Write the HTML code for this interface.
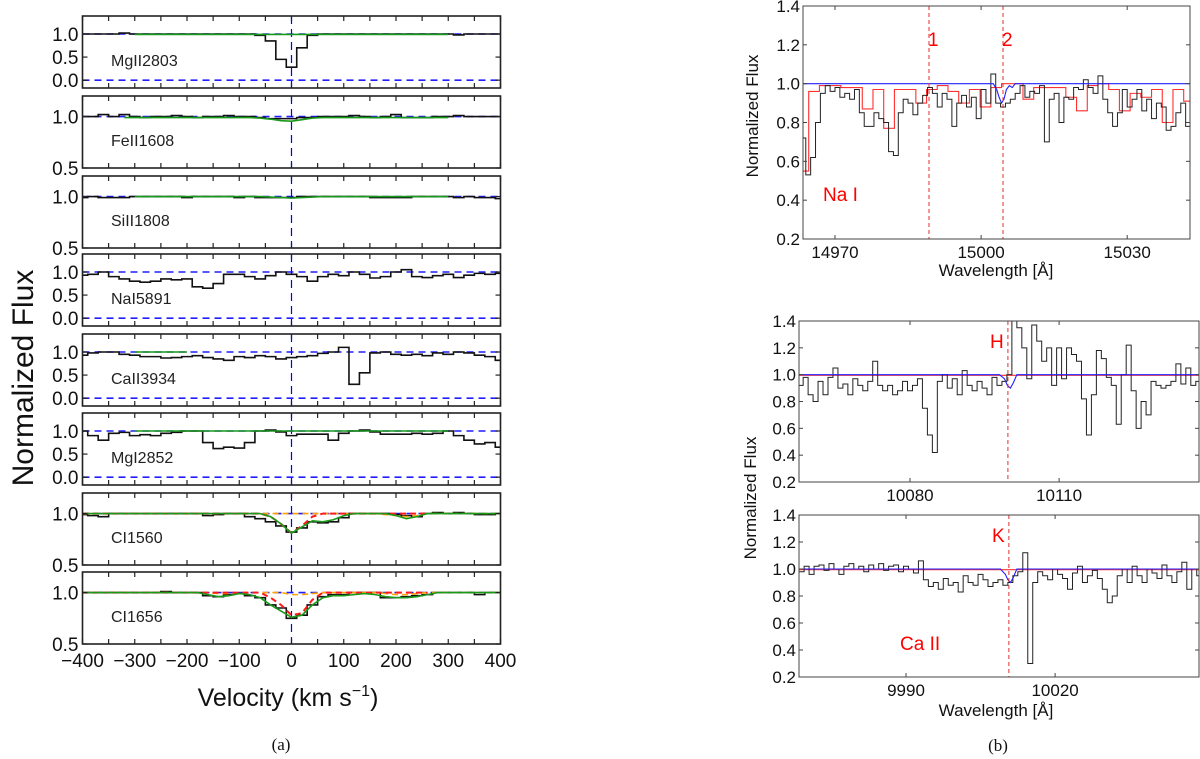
<!DOCTYPE html>
<html><head><meta charset="utf-8"><style>
html,body{margin:0;padding:0;background:#fff;}
svg{display:block;font-family:"Liberation Sans","DejaVu Sans",sans-serif;}
</style></head><body>
<svg id="fig" width="1200" height="759" viewBox="0 0 1200 759" xmlns="http://www.w3.org/2000/svg"></svg>
<script>
// ---------- Left panel data (velocity grid -400..400 step 20) ----------
const velStart = -400, velStep = 20;
const mg2803 = [1,1,1,1,1.02,1,1,1,1,1,1,1,1,1,1,1,1,0.97,0.85,0.45,0.28,0.7,0.97,1,1,1,1,1,1,1,1,1,1,1,1,1,0.98,1,1,1,1];
const fe1608 = [1.0,1.0,1.02,1.0,1.02,1.0,0.99,1.0,1.0,1.01,1.0,0.99,1.0,1.0,1.01,1.0,1.0,0.99,0.98,0.98,0.98,0.99,0.99,1.0,1.0,1.0,1.01,1.0,0.99,1.0,1.02,0.99,0.99,0.99,1.0,1.0,1.01,1.0,1.0,1.0,1.0];
const si1808 = [0.99,1.0,0.99,0.99,0.99,1.0,1.0,1.0,1.0,1.0,0.99,1.0,1.0,1.0,1.0,0.99,1.0,0.99,0.99,0.99,0.99,1.0,1.0,1.0,1.0,1.0,1.0,1.0,0.99,0.99,0.99,0.99,1.0,1.0,1.0,1.0,0.99,1.0,0.99,0.99,0.98];
const na5891 = [0.93,0.95,1.0,0.9,0.85,0.8,0.78,0.8,0.85,0.83,0.85,0.68,0.65,0.75,0.95,0.95,0.9,0.85,0.92,1.0,0.95,0.9,0.8,0.9,0.95,0.92,1.0,0.95,0.87,0.9,1.0,1.05,0.9,0.88,0.92,0.95,0.88,0.93,0.97,0.95,0.97];
const ca3934 = [0.93,0.98,1.0,1.0,0.95,0.93,0.9,0.9,0.87,0.88,0.9,0.92,0.88,0.85,0.82,0.9,0.88,0.92,0.9,0.85,0.88,0.9,0.92,0.97,1.0,1.1,0.3,0.55,0.98,1.0,0.95,0.93,0.95,0.92,0.98,0.95,1.0,0.98,0.93,0.9,0.82];
const mg2852 = [1.0,0.9,0.8,0.95,0.97,0.9,0.92,0.9,0.95,0.97,1.0,1.0,0.75,0.62,0.65,0.63,0.75,1.0,1.02,0.98,0.9,0.93,0.93,0.93,0.8,0.95,1.0,1.02,0.98,0.93,0.93,0.93,0.95,0.93,0.95,1.0,0.9,0.8,0.72,0.75,0.65];
const c1560 = [0.99,0.98,0.97,1.0,1.0,1.0,1.0,1.0,1.0,1.0,1.0,1.0,0.98,0.99,1.0,1.0,0.97,0.95,0.92,0.88,0.82,0.86,0.92,0.91,0.92,0.96,1.0,1.0,1.0,1.0,0.99,0.98,0.97,1.0,1.01,1.0,1.01,1.0,0.99,0.99,1.0];
const c1656 = [1.0,1.0,1.0,1.0,1.0,1.0,1.0,1.0,1.01,1.0,1.0,1.0,0.97,0.96,0.98,0.99,0.97,0.95,0.88,0.85,0.75,0.78,0.88,0.96,0.98,0.98,1.0,1.0,1.0,0.95,0.95,0.96,0.97,0.98,1.0,1.0,1.0,1.0,0.98,1.0,1.0];
const N=null;
const mg2803Fit = [N,N,N,N,N,0.99,0.99,0.99,0.99,0.99,0.99,0.99,0.99,0.99,0.99,0.99,0.99,0.99,0.99,0.99,0.99,0.99,0.99,0.99,0.99,0.99,0.99,0.99,0.99,0.99,0.99,0.99,0.99,0.99,0.99,0.99,N,N,N,N,N];
const fe1608Fit = [N,N,N,N,0.99,0.99,0.99,0.99,0.99,0.99,0.99,0.99,0.99,0.99,0.99,0.99,0.99,0.985,0.975,0.96,0.955,0.97,0.985,0.99,0.99,0.99,0.99,0.99,0.99,0.99,0.99,0.99,0.99,0.99,0.99,0.99,N,N,N,N,N];
const si1808Fit = [N,N,N,N,N,1,1,1,1,1,1,1,1,1,1,1,1,1,0.995,0.99,0.985,0.99,0.995,1,1,1,1,1,1,1,1,1,1,1,1,1,N,N,N,N,N];
const ca3934Fit = [N,N,N,N,N,1,1,1,1,1,1,N,N,N,N,N,N,N,N,N,N,N,N,N,N,N,N,N,N,N,N,N,N,N,N,N,N,N,N,N,N];
const mg2852Fit = [N,N,N,N,N,1,1,1,1,1,1,1,1,1,1,1,1,1,1,1,1,1,1,1,1,1,1,1,1,1,1,1,1,1,1,1,N,N,N,N,N];
const c1560Fit = [1,1,1,1,1,1,1,1,1,1,1,1,1,1,1,1,1,1,0.97,0.9,0.81,0.87,0.93,0.92,0.94,0.98,1,1,1,1,0.98,0.95,0.97,1,1,1,1,1,1,1,1];
const c1560Red = [1,1,1,1,1,1,1,1,1,1,1,1,1,1,1,1,1,1,0.97,0.9,0.81,0.88,0.97,1,1,1,1,1,1,1,1,1,1,1,N,N,N,N,N,N,N];
const c1560Org = [1,1,1,1,1,1,1,1,1,1,1,1,1,1,1,1,1,1,1,1,1,1,1,1,1,1,1,1,1,0.99,0.98,0.97,0.98,1,1,1,1,1,1,1,1];
const c1656Fit = [1,1,1,1,1,1,1,1,1,1,1,1,0.98,0.96,0.97,0.99,0.98,0.95,0.88,0.82,0.76,0.78,0.88,0.95,0.97,0.97,0.98,0.99,0.98,0.96,0.95,0.95,0.96,0.98,1,1,1,1,1,1,1];
const c1656Red = [1,1,1,1,1,1,1,1,1,1,1,1,1,1,1,1,1,1,0.95,0.88,0.78,0.8,0.93,1,1,1,1,1,1,1,1,1,1,1,N,N,N,N,N,N,N];
const c1656Org = [1,1,1,1,1,1,1,1,1,1,1,1,1,0.99,0.99,1,1,1,1,1,0.98,0.98,0.99,1,1,1,1,1,1,0.99,0.98,0.98,0.99,1,1,1,1,1,1,1,1];
const panelLabels = ["MgII2803","FeII1608","SiII1808","NaI5891","CaII3934","MgI2852","CI1560","CI1656"];
const velTicks = [-400,-300,-200,-100,0,100,200,300,400];
const velTickLabels = ["\u2212400","\u2212300","\u2212200","\u2212100","0","100","200","300","400"];

// ---------- Right panel data ----------
const naStart = 14963.5, naStep = 1;
const naFlux = [0.72,0.53,0.62,0.8,0.95,0.99,0.96,0.98,0.93,0.95,0.92,0.97,0.85,0.78,0.78,0.85,0.82,0.80,0.65,0.63,0.85,0.92,0.90,0.84,0.90,0.94,0.98,0.95,0.88,0.95,0.92,0.78,0.9,0.94,0.88,0.93,0.82,0.97,0.9,1.05,0.9,0.88,0.9,0.92,0.95,0.99,0.93,0.96,0.95,0.99,0.7,0.92,0.95,0.8,0.93,0.92,0.98,0.97,1.02,0.98,0.95,1.04,0.92,0.85,0.78,0.85,0.97,0.88,0.92,0.97,0.86,0.92,0.82,0.9,0.88,0.76,0.78,0.85,0.9,0.78];
const naRedStart = 14963.5, naRedStep = 2.2;
const naRed = [0.55,0.96,0.99,0.99,0.98,0.98,0.87,0.97,0.77,0.97,0.97,0.9,0.97,0.99,0.96,0.9,0.97,0.88,0.98,1.0,1.0,0.92,0.98,0.98,0.98,0.93,0.86,0.99,1.0,0.97,0.86,0.95,0.93,0.97,0.8,0.97,0.91];
const naModelLam = [14963,15002.5,15003.2,15003.7,15004.2,15004.7,15005.2,15005.8,15006.4,15007,15043];
const naModel = [1,1,0.97,0.93,0.9,0.92,0.97,0.99,0.98,1,1];
const naMarkers = [14989.3,15004.5];
const naMarkerLabels = ["1","2"];
const naTicks = [14970,15000,15030];

const hStart = 10058, hStep = 1;
const hFlux = [0.92,0.98,0.85,0.80,0.95,0.85,0.98,1.05,0.9,0.93,0.85,0.97,0.92,0.88,0.95,1.1,0.92,0.88,0.92,0.85,0.88,0.95,0.88,0.92,0.97,0.75,0.55,0.42,0.95,1.0,0.9,0.97,0.85,1.03,0.92,0.88,0.95,0.9,0.85,0.98,0.92,0.95,1.0,1.4,1.35,1.2,0.97,1.37,1.25,1.1,1.2,0.92,1.2,0.97,1.2,1.15,1.1,0.82,0.55,0.85,1.18,1.12,0.98,0.92,0.63,1.0,1.22,0.88,0.6,0.8,0.7,0.95,0.92,0.9,0.92,0.95,1.08,0.93,1.05,0.92,0.95];
const hModelLam = [10057,10098,10099,10099.6,10100.2,10100.8,10101.5,10139];
const hModel = [1,1,0.97,0.92,0.9,0.94,1,1];
const hMarker = 10099.7;
const hTicks = [10080,10110];

const kStart = 9969, kStep = 1;
const kFlux = [0.98,1.02,0.96,1.02,1.03,0.99,1.04,1.0,0.96,1.02,1.04,1.0,1.02,0.98,1.03,1.0,1.04,0.99,1.02,1.03,0.98,1.02,1.0,0.97,1.06,0.92,0.87,0.9,0.85,0.93,0.88,0.9,0.83,0.95,0.9,0.88,0.96,0.92,0.87,0.9,0.92,0.88,0.9,0.95,0.98,1.12,0.3,0.9,0.98,0.95,0.92,1.0,0.96,0.93,0.85,0.97,1.02,0.9,0.95,0.99,0.93,0.85,0.75,0.8,0.95,1.0,0.9,1.02,0.95,0.9,1.0,0.97,0.93,1.03,0.95,0.9,0.98,1.05,0.85,1.0,0.95];
const kModelLam = [9968,10009,10010,10010.5,10011,10011.5,10012.3,10050];
const kModel = [1,1,0.96,0.92,0.9,0.93,1,1];
const kMarker = 10010.7;
const kTicks = [9990,10020];
const fluxTicks = [0.2,0.4,0.6,0.8,1.0,1.2,1.4];

const svg = document.getElementById('fig');
const NS = "http://www.w3.org/2000/svg";
function mk(tag, attrs, parent){
  const e = document.createElementNS(NS, tag);
  for (const k in attrs) e.setAttribute(k, attrs[k]);
  (parent||svg).appendChild(e);
  return e;
}
function stepPath(xs, ys, X, Y){
  let d = "";
  for (let i=0;i<xs.length;i++){
    if (ys[i]===null) continue;
    const half = (i<xs.length-1 ? xs[i+1]-xs[i] : xs[i]-xs[i-1])/2;
    const x0 = X(xs[i]-half), x1 = X(xs[i]+half), y = Y(ys[i]);
    d += (d==="" ? "M"+x0+","+y : " L"+x0+","+y) + " L"+x1+","+y;
  }
  return d;
}
function linePath(xs, ys, X, Y){
  let d="", pen=false;
  for (let i=0;i<xs.length;i++){
    if (ys[i]===null){pen=false;continue;}
    d += (pen?" L":" M")+X(xs[i])+","+Y(ys[i]); pen=true;
  }
  return d;
}

// ---------- LEFT PANELS ----------
const vX = v => 291.5 + v*0.5225;
const tops = [16,96,176,254,334,413,493,572];
const pH = 72;
const typeA = [true,false,false,true,true,true,false,false];
const dataSets = [mg2803,fe1608,si1808,na5891,ca3934,mg2852,c1560,c1656];
const fitSets = [mg2803Fit,fe1608Fit,si1808Fit,null,ca3934Fit,mg2852Fit,c1560Fit,c1656Fit];
const redSets = [null,null,null,null,null,null,c1560Red,c1656Red];
const orgSets = [null,null,null,null,null,null,c1560Org,c1656Org];
const vel = mg2803.map((_,i)=>velStart+i*velStep);
const xL = vX(-400), xR = vX(400);

for (let p=0;p<8;p++){
  const top = tops[p], bot = top+pH;
  const lo = typeA[p] ? -0.17 : 0.5, hi = typeA[p] ? 1.39 : 1.2;
  const Y = f => bot - (f-lo)/(hi-lo)*pH;
  const g = mk('g',{});
  
  
  const clipId = 'c'+p;
  const cp = mk('clipPath',{id:clipId},g);
  mk('rect',{x:xL,y:top,width:xR-xL,height:pH},cp);
  const inner = mk('g',{'clip-path':'url(#'+clipId+')'},g);
  mk('line',{x1:xL,x2:xR,y1:Y(1),y2:Y(1),stroke:'#1f1fff','stroke-width':1.6,'stroke-dasharray':'7,5'},inner);
  if (typeA[p]) mk('line',{x1:xL,x2:xR,y1:Y(0),y2:Y(0),stroke:'#1f1fff','stroke-width':1.6,'stroke-dasharray':'7,5'},inner);
  mk('line',{x1:vX(0),x2:vX(0),y1:top,y2:bot,stroke:'#0000ff','stroke-width':1.2,'stroke-dasharray':'8,5'},inner);
  const dp = mk('path',{d:stepPath(vel,dataSets[p],vX,Y),fill:'none',stroke:'#111','stroke-width':1.6},inner);
  
  
  if (orgSets[p]) mk('path',{d:linePath(vel,orgSets[p],vX,Y),fill:'none',stroke:'#ffa500','stroke-width':1.6,'stroke-dasharray':'6,4'},inner);
  if (redSets[p]) mk('path',{d:linePath(vel,redSets[p],vX,Y),fill:'none',stroke:'#ff1a1a','stroke-width':2,'stroke-dasharray':'6,4'},inner);
  if (fitSets[p]){
    const fp = mk('path',{d:linePath(vel,fitSets[p],vX,Y),fill:'none',stroke:'#1a9a1a','stroke-width':1.6},inner);
    
    
  }
  mk('rect',{x:xL,y:top,width:xR-xL,height:pH,fill:'none',stroke:'#222','stroke-width':1.6},g);
  for (let v=-400; v<=400; v+=50){
    mk('line',{x1:vX(v),x2:vX(v),y1:bot,y2:bot-5,stroke:'#222','stroke-width':1.2},g);
    mk('line',{x1:vX(v),x2:vX(v),y1:top,y2:top+5,stroke:'#222','stroke-width':1.2},g);
  }
  const yt = typeA[p] ? [0,0.5,1.0] : [0.5,1.0];
  yt.forEach(t=>{
    mk('line',{x1:xL,x2:xL+5,y1:Y(t),y2:Y(t),stroke:'#222','stroke-width':1.2},g);
    mk('line',{x1:xR,x2:xR-5,y1:Y(t),y2:Y(t),stroke:'#222','stroke-width':1.2},g);
    const tl = mk('text',{x:xL-4,y:Y(t)+7,'text-anchor':'end','font-size':19,fill:'#111'},g);
    tl.textContent = t.toFixed(1);
    
    
  });
  const lb = mk('text',{x:111,y:top+50,'font-size':16,fill:'#222'},g);
  lb.textContent = panelLabels[p];
  
  
}
velTicks.forEach((v,i)=>{
  const t = mk('text',{x:vX(v),y:667,'text-anchor':'middle','font-size':19,fill:'#111'});
  t.textContent = velTickLabels[i];
  
  
});
{
  const t = mk('text',{x:288,y:706,'text-anchor':'middle','font-size':25,fill:'#111'});
  
  
  t.innerHTML = 'Velocity (km s<tspan dy="-10" font-size="16">\u22121</tspan><tspan dy="10">)</tspan>';
  const yl = mk('text',{x:0,y:0,'text-anchor':'middle','font-size':30,fill:'#111',transform:'translate(33,378) rotate(-90)'});
  yl.textContent = 'Normalized Flux';
  
  
  const ca = mk('text',{x:281,y:750,'text-anchor':'middle','font-size':17,fill:'#111','font-family':'Liberation Serif, serif'});
  ca.textContent = '(a)';
  
  
}

// ---------- RIGHT PANELS ----------
function specPanel(o){
  const X = l => o.x0 + (l-o.l0)*o.ppa;
  const Y = f => o.bot - (f-0.2)/1.2*(o.bot-o.top);
  const g = mk('g',{});
  
  
  const cp = mk('clipPath',{id:o.name+'-clip'},g);
  mk('rect',{x:o.left,y:o.top,width:o.right-o.left,height:o.bot-o.top},cp);
  const inner = mk('g',{'clip-path':'url(#'+o.name+'-clip)'},g);
  const lam = o.flux.map((_,i)=>o.start+i*o.step);
  if (o.red){
    const rl = o.red.map((_,i)=>o.redStart+i*o.redStep);
    const rp = mk('path',{d:stepPath(rl,o.red,X,Y),fill:'none',stroke:'#ff3030','stroke-width':1.1},inner);
    
    
  } else {
    mk('line',{x1:o.left,x2:o.right,y1:Y(0.995),y2:Y(0.995),stroke:'#ff3030','stroke-width':1.1},inner);
  }
  const bp = mk('path',{d:stepPath(lam,o.flux,X,Y),fill:'none',stroke:'#222','stroke-width':1},inner);
  
  
  const mp = mk('path',{d:linePath(o.mLam,o.model,X,Y),fill:'none',stroke:'#2020ff','stroke-width':1.1},inner);
  
  
  o.markers.forEach(m=>mk('line',{x1:X(m),x2:X(m),y1:o.top,y2:o.bot,stroke:'#e03030','stroke-width':1,'stroke-dasharray':'4,3'},inner));
  mk('rect',{x:o.left,y:o.top,width:o.right-o.left,height:o.bot-o.top,fill:'none',stroke:'#444','stroke-width':1},g);
  fluxTicks.forEach(t=>{
    mk('line',{x1:o.left,x2:o.left+4,y1:Y(t),y2:Y(t),stroke:'#444'},g);
    mk('line',{x1:o.right,x2:o.right-4,y1:Y(t),y2:Y(t),stroke:'#444'},g);
    const tl = mk('text',{x:o.left-3,y:Y(t)+6,'text-anchor':'end','font-size':17,fill:'#111'},g);
    tl.textContent = t.toFixed(1);
    
    
  });
  o.ticks.forEach(t=>{
    mk('line',{x1:X(t),x2:X(t),y1:o.bot,y2:o.bot-4,stroke:'#444'},g);
    mk('line',{x1:X(t),x2:X(t),y1:o.top,y2:o.top+4,stroke:'#444'},g);
    const tl = mk('text',{x:X(t),y:o.bot+19,'text-anchor':'middle','font-size':17,fill:'#111'},g);
    tl.textContent = String(t);
    
    
  });
  o.labels.forEach(L=>{
    const t = mk('text',{x:L.x,y:L.y,'font-size':L.s,fill:'#ff0000','text-anchor':L.a||'start'},g);
    t.textContent = L.t;
    
    
  });
}
specPanel({name:'na-panel',left:803,right:1190,top:6,bot:239,x0:835,l0:14970,ppa:4.87,
  flux:naFlux,start:naStart,step:naStep,red:naRed,redStart:naRedStart,redStep:naRedStep,
  mLam:naModelLam,model:naModel,markers:naMarkers,ticks:naTicks,
  labels:[{x:928,y:46,s:19,t:naMarkerLabels[0]},{x:1002,y:46,s:19,t:naMarkerLabels[1]},{x:823,y:201,s:19,t:'Na I'}]});
specPanel({name:'h-panel',left:799,right:1199,top:321,bot:482,x0:910,l0:10080,ppa:4.97,
  flux:hFlux,start:hStart,step:hStep,red:null,
  mLam:hModelLam,model:hModel,markers:[hMarker],ticks:hTicks,
  labels:[{x:990,y:348,s:19,t:'H'}]});
specPanel({name:'k-panel',left:799,right:1199,top:515,bot:677,x0:906,l0:9990,ppa:4.97,
  flux:kFlux,start:kStart,step:kStep,red:null,
  mLam:kModelLam,model:kModel,markers:[kMarker],ticks:kTicks,
  labels:[{x:992,y:542,s:19,t:'K'},{x:900,y:650,s:19,t:'Ca II'}]});
[[996,276,'Wavelength [\u00c5]','x-axis-title-top'],[996,716,'Wavelength [\u00c5]','x-axis-title-bottom']].forEach(a=>{
  const t = mk('text',{x:a[0],y:a[1],'text-anchor':'middle','font-size':17,fill:'#111'});
  t.textContent = a[2];
  
  
});
[[758,116,'y-axis-title-top'],[756,498,'y-axis-title-bottom']].forEach(a=>{
  const t = mk('text',{x:0,y:0,'text-anchor':'middle','font-size':17,fill:'#111',transform:'translate('+a[0]+','+a[1]+') rotate(-90)'});
  t.textContent = 'Normalized Flux';
  
  
});
{
  const cb = mk('text',{x:998,y:751,'text-anchor':'middle','font-size':17,fill:'#111','font-family':'Liberation Serif, serif'});
  cb.textContent = '(b)';
  
  
}
</script>
</body></html>
